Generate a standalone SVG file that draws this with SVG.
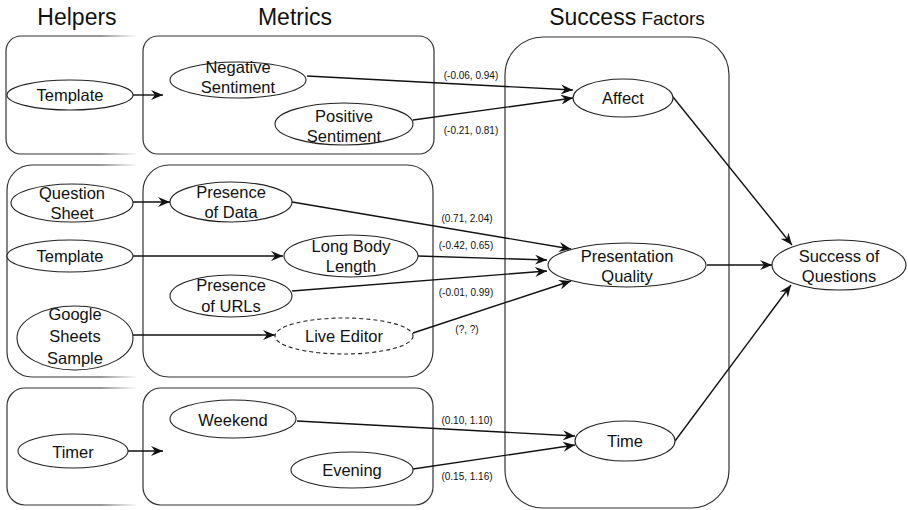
<svg xmlns="http://www.w3.org/2000/svg" width="908" height="510" viewBox="0 0 908 510">
<style>
.t{font-family:"Liberation Sans",Arial,sans-serif;fill:#111;text-anchor:middle}
.n{font-size:16.5px}
.h{font-size:23px}
.l{font-size:10px}
.box{fill:none;stroke:#333;stroke-width:1.2}
.hb{fill:none;stroke:url(#fade);stroke-width:1.2}
.e{fill:#fff;stroke:#222;stroke-width:1.1}
.d{stroke-dasharray:4 3}
.c{fill:none;stroke:#111;stroke-width:1.4;marker-end:url(#ah)}
.c0{fill:none;stroke:#111;stroke-width:1.4}
</style>
<defs>
<marker id="ah" viewBox="0 0 12 10" refX="12" refY="5" markerWidth="12" markerHeight="10" markerUnits="userSpaceOnUse" orient="auto">
<path d="M0,0 L12,5 L0,10 L4,5 z" fill="#111"/>
</marker>
<linearGradient id="fade" gradientUnits="userSpaceOnUse" x1="6" y1="0" x2="138" y2="0">
<stop offset="0.72" stop-color="#333" stop-opacity="1"/>
<stop offset="1" stop-color="#333" stop-opacity="0"/>
</linearGradient>
</defs>
<rect width="908" height="510" fill="#fff"/>

<g id="titles">
<text class="t h" x="77" y="25">Helpers</text>
<text class="t h" x="295" y="25">Metrics</text>
<text class="t" x="627" y="25"><tspan font-size="23px">Success</tspan><tspan font-size="19px"> Factors</tspan></text>
</g>

<g id="containers">
<path class="hb" d="M138,36 H21 A15,15 0 0 0 6,51 V139 A15,15 0 0 0 21,154 H138"/>
<rect class="box" x="143" y="36" width="291" height="118" rx="15"/>
<path class="hb" d="M138,165 H32 A25,25 0 0 0 7,190 V352 A25,25 0 0 0 32,377 H138"/>
<rect class="box" x="143" y="165" width="290" height="212" rx="26"/>
<path class="hb" d="M138,388 H25 A18,18 0 0 0 7,406 V487 A18,18 0 0 0 25,505 H138"/>
<rect class="box" x="143" y="388" width="290" height="117" rx="18"/>
<rect class="box" x="505" y="37" width="224" height="471" rx="38"/>
</g>

<g id="connectors">
<line class="c" x1="133" y1="95" x2="163" y2="95"/>
<line class="c" x1="307" y1="76" x2="573" y2="90"/>
<line class="c" x1="413" y1="120" x2="573" y2="98"/>
<line class="c" x1="673" y1="97" x2="792" y2="245"/>
<line class="c" x1="133" y1="202" x2="170" y2="202"/>
<line class="c" x1="133" y1="256" x2="283" y2="256"/>
<line class="c" x1="133" y1="335" x2="275" y2="335"/>
<line class="c" x1="292" y1="202" x2="571" y2="249"/>
<line class="c" x1="418" y1="256" x2="547" y2="260"/>
<line class="c" x1="292" y1="291" x2="547" y2="271"/>
<line class="c" x1="413" y1="333" x2="571" y2="281"/>
<line class="c" x1="707" y1="265" x2="772" y2="265"/>
<line class="c" x1="128" y1="451" x2="163" y2="451"/>
<line class="c" x1="297" y1="421" x2="575" y2="436"/>
<line class="c" x1="413" y1="469" x2="575" y2="445"/>
<line class="c" x1="675" y1="441" x2="791" y2="285"/>
</g>

<g id="edge-labels">
<text class="t l" x="471" y="79">(-0.06, 0.94)</text>
<text class="t l" x="471" y="134">(-0.21, 0.81)</text>
<text class="t l" x="467" y="222">(0.71, 2.04)</text>
<text class="t l" x="466" y="249">(-0.42, 0.65)</text>
<text class="t l" x="466" y="296">(-0.01, 0.99)</text>
<text class="t l" x="467" y="333">(?, ?)</text>
<text class="t l" x="467" y="424">(0.10, 1.10)</text>
<text class="t l" x="467" y="480">(0.15, 1.16)</text>
</g>

<g id="h-template1"><ellipse class="e" cx="70" cy="95" rx="63" ry="15"/><text class="t n" x="70" y="101">Template</text></g>
<g id="m-negative"><ellipse class="e" cx="238" cy="80" rx="68" ry="18"/><text class="t n" x="238" y="73">Negative</text><text class="t n" x="238" y="93">Sentiment</text></g>
<g id="m-positive"><ellipse class="e" cx="344" cy="124" rx="69" ry="21"/><text class="t n" x="344" y="122">Positive</text><text class="t n" x="344" y="142">Sentiment</text></g>

<g id="h-question"><ellipse class="e" cx="72" cy="203" rx="61" ry="19"/><text class="t n" x="72" y="199">Question</text><text class="t n" x="72" y="219">Sheet</text></g>
<g id="h-template2"><ellipse class="e" cx="70" cy="256" rx="63" ry="16"/><text class="t n" x="70" y="262">Template</text></g>
<g id="h-google"><ellipse class="e" cx="75" cy="338" rx="58" ry="32"/><text class="t n" x="75" y="320">Google</text><text class="t n" x="75" y="342">Sheets</text><text class="t n" x="75" y="364">Sample</text></g>
<g id="m-data"><ellipse class="e" cx="231" cy="202" rx="61" ry="20"/><text class="t n" x="231" y="198">Presence</text><text class="t n" x="231" y="218">of Data</text></g>
<g id="m-long"><ellipse class="e" cx="351" cy="256" rx="67" ry="21"/><text class="t n" x="351" y="252">Long Body</text><text class="t n" x="351" y="272">Length</text></g>
<g id="m-urls"><ellipse class="e" cx="231" cy="296" rx="61" ry="21"/><text class="t n" x="231" y="291">Presence</text><text class="t n" x="231" y="312">of URLs</text></g>
<g id="m-live"><ellipse class="e d" cx="344" cy="336" rx="69" ry="18"/><text class="t n" x="344" y="342">Live Editor</text></g>

<g id="h-timer"><ellipse class="e" cx="73" cy="451" rx="55" ry="17"/><text class="t n" x="73" y="458">Timer</text></g>
<g id="m-weekend"><ellipse class="e" cx="233" cy="419" rx="63" ry="19"/><text class="t n" x="233" y="426">Weekend</text></g>
<g id="m-evening"><ellipse class="e" cx="352" cy="470" rx="61" ry="18"/><text class="t n" x="352" y="476">Evening</text></g>

<g id="f-affect"><ellipse class="e" cx="623" cy="98" rx="50" ry="19"/><text class="t n" x="623" y="104">Affect</text></g>
<g id="f-presentation"><ellipse class="e" cx="627" cy="265" rx="79" ry="22"/><text class="t n" x="627" y="262">Presentation</text><text class="t n" x="627" y="282">Quality</text></g>
<g id="f-time"><ellipse class="e" cx="625" cy="441" rx="50" ry="20"/><text class="t n" x="625" y="447">Time</text></g>
<g id="success"><ellipse class="e" cx="839" cy="265" rx="67" ry="25"/><text class="t n" x="839" y="262">Success of</text><text class="t n" x="839" y="282">Questions</text></g>
</svg>
